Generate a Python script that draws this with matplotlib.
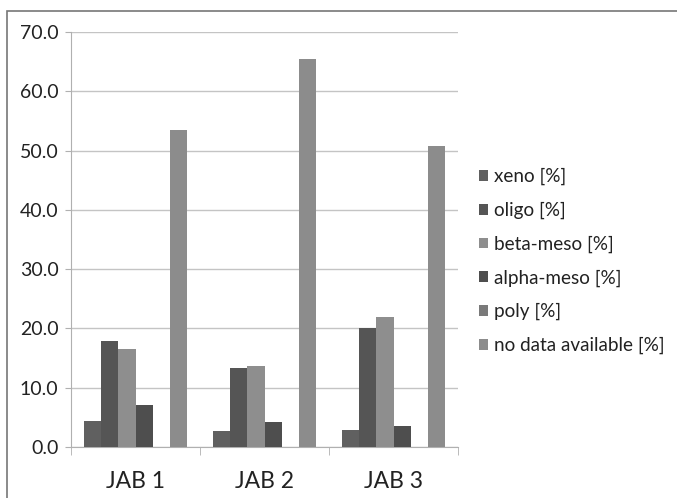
import numpy as np
import matplotlib
matplotlib.use("Agg")
import matplotlib.pyplot as plt
from matplotlib.patches import Rectangle

categories = ["JAB 1", "JAB 2", "JAB 3"]
series = ["xeno [%]", "oligo [%]", "beta-meso [%]", "alpha-meso [%]", "poly [%]", "no data available [%]"]
xeno = [4.4, 2.7, 2.9]
oligo = [17.8, 13.4, 20.1]
beta_meso = [16.6, 13.6, 21.9]
alpha_meso = [7.1, 4.3, 3.6]
poly = [0.0, 0.0, 0.0]
no_data = [53.4, 65.4, 50.8]
values = [xeno, oligo, beta_meso, alpha_meso, poly, no_data]
colors = ["#606060", "#555555", "#8e8e8e", "#4e4e4e", "#7a7a7a", "#8c8c8c"]

plt.rcParams["font.family"] = ["Lato", "DejaVu Sans"]
fig = plt.figure(figsize=(6.77, 4.98), dpi=100)
ax = fig.add_axes([71 / 677, 1 - 447 / 498, 387 / 677, 415 / 498])

n = len(series)
w = 0.8 / n
x = np.arange(len(categories))
for i, (name, vals, c) in enumerate(zip(series, values, colors)):
    ax.bar(x - 0.4 + w * (i + 0.5), vals, width=w, color=c, label=name, zorder=3)

ax.set_xlim(-0.5, 2.5)
ax.set_ylim(0, 70)
ax.set_yticks(np.arange(0, 71, 10))
ax.set_yticklabels([f"{v:.1f}" for v in np.arange(0, 71, 10)], fontsize=14, color="#222222")
ax.set_xticks(x)
ax.set_xticklabels(categories, fontsize=16.5, color="#222222")
ax.set_xticks([-0.5, 0.5, 1.5, 2.5], minor=True)
ax.tick_params(axis="x", which="major", length=0, pad=17)
ax.tick_params(axis="x", which="minor", length=6, color="#b0b0b0", direction="out")
ax.tick_params(axis="y", length=4, color="#b0b0b0", pad=5)
ax.grid(axis="y", color="#c4c4c4", lw=1, zorder=0)
for s in ("top", "right"):
    ax.spines[s].set_visible(False)
for s in ("left", "bottom"):
    ax.spines[s].set_color("#b0b0b0")

leg = fig.legend(*ax.get_legend_handles_labels(), loc="upper left",
                 bbox_to_anchor=(462 / 677, 1 - 151 / 498), frameon=False, fontsize=13.6,
                 handlelength=0.5, handleheight=0.5, handletextpad=0.3, labelspacing=0.87)
for t in leg.get_texts():
    t.set_color("#222222")

# outer chart frame (only top/left visible in the crop)
fig.patches.append(Rectangle((7 / 677, -0.1), 1.2, 1 - 11 / 498 + 0.1, transform=fig.transFigure,
                             fill=False, edgecolor="#777777", lw=1.2))

fig.savefig("out.png", dpi=100)
